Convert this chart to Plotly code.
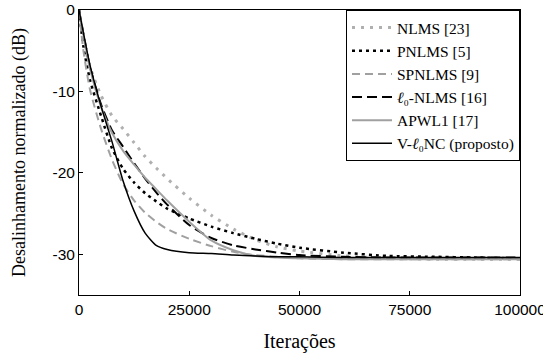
import plotly.graph_objects as go

iters = [0, 1000, 2500, 5000, 7500, 10000, 12500, 15000, 17500, 20000, 25000,
         30000, 35000, 40000, 45000, 50000, 60000, 70000, 80000, 90000, 100000]

nlms = [0, -3.5, -7.0, -10.5, -13.0, -14.6, -16.3, -18.0, -19.4, -20.7, -23.1,
        -25.2, -26.9, -28.2, -29.1, -29.6, -30.2, -30.5, -30.6, -30.6, -30.6]
pnlms = [0, -4.5, -8.6, -13.0, -17.0, -19.5, -21.2, -22.5, -23.5, -24.4, -25.6,
         -26.6, -27.4, -28.1, -28.7, -29.2, -29.8, -30.2, -30.3, -30.4, -30.5]
spnlms = [0, -5.0, -9.8, -14.6, -18.4, -21.4, -23.4, -24.9, -26.0, -26.9, -28.1,
          -29.0, -29.7, -30.1, -30.3, -30.5, -30.6, -30.6, -30.6, -30.6, -30.6]
l0nlms = [0, -2.9, -7.0, -11.6, -14.8, -16.8, -18.8, -20.7, -22.4, -23.9, -26.4,
          -28.0, -28.9, -29.4, -29.8, -30.1, -30.3, -30.4, -30.4, -30.4, -30.4]
apwl1 = [0, -3.0, -7.2, -11.9, -15.1, -17.3, -19.0, -20.6, -22.0, -23.4, -26.0,
         -28.3, -29.5, -30.2, -30.4, -30.5, -30.6, -30.6, -30.6, -30.6, -30.6]
vl0nc = [0, -2.8, -6.8, -11.8, -16.2, -21.0, -24.7, -27.4, -28.9, -29.4, -29.8,
         -29.9, -30.1, -30.2, -30.3, -30.3, -30.4, -30.4, -30.4, -30.4, -30.4]

names = ["NLMS [23]", "PNLMS [5]", "SPNLMS [9]", "<i>ℓ</i>₀-NLMS [16]",
         "APWL1 [17]", "V-<i>ℓ</i>₀NC (proposto)"]
series = [nlms, pnlms, spnlms, l0nlms, apwl1, vl0nc]
styles = [
    dict(color="#b0b0b0", width=3, dash="3px,6px"),
    dict(color="#000000", width=2.5, dash="3px,4px"),
    dict(color="#a0a0a0", width=2, dash="8px,5px"),
    dict(color="#000000", width=2, dash="10px,5px"),
    dict(color="#a0a0a0", width=2, dash="solid"),
    dict(color="#000000", width=1.5, dash="solid"),
]

fig = go.Figure()
for n, s, st in zip(names, series, styles):
    fig.add_trace(go.Scatter(x=iters, y=s, mode="lines", name=n,
                             line=dict(shape="spline", smoothing=0.6, **st)))

serif = "Liberation Serif, Times New Roman, Times, serif"
sans = "Liberation Sans, Arial, Helvetica, sans-serif"

axis_common = dict(showline=True, linecolor="black", linewidth=1, mirror=True,
                   ticks="inside", ticklen=4, tickcolor="black", showgrid=False,
                   zeroline=False, automargin=False, ticklabeloverflow="allow",
                   tickfont=dict(family=sans, size=15.5, color="black"))

fig.update_layout(
    width=543, height=353,
    margin=dict(l=79, r=23, t=10, b=58),
    plot_bgcolor="white", paper_bgcolor="white",
    xaxis=dict(range=[0, 100000], tickvals=[0, 25000, 50000, 75000, 100000],
               ticktext=["0", "25000", "50000", "75000", "100000"],
               title=dict(text="Iterações", standoff=18,
                          font=dict(family=serif, size=20, color="black")),
               **axis_common),
    yaxis=dict(range=[-35, 0], tickvals=[0, -10, -20, -30],
               ticktext=["0", "-10", "-20", "-30"],
               title=dict(text="Desalinhamento normalizado (dB)", standoff=22,
                          font=dict(family=serif, size=18, color="black")),
               **axis_common),
    legend=dict(x=1, y=1, xanchor="right", yanchor="top",
                bgcolor="white", bordercolor="black", borderwidth=1,
                font=dict(family=serif, size=15.5, color="black"),
                tracegroupgap=0, itemwidth=40),
    showlegend=True,
)

fig.write_html("out.html", config={"displayModeBar": False},
               post_script="document.body.style.margin='0';document.body.style.overflow='hidden';")
